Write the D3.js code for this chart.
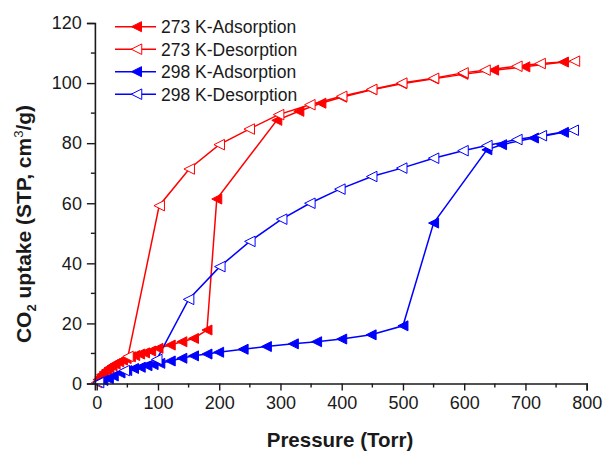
<!DOCTYPE html>
<html>
<head>
<meta charset="utf-8">
<script src="https://cdn.jsdelivr.net/npm/d3@7"></script>
<style>
  html, body { margin: 0; padding: 0; background: #fff; }
  svg { display: block; }
  text { font-family: "Liberation Sans", Arial, sans-serif; fill: #1a1a1a; }
</style>
</head>
<body>
<svg id="chart" width="604" height="451"></svg>
<script>
// CO2 isotherms: pressure (Torr) and uptake (cm3/g STP)
const ads273P = [2, 5, 8, 12, 16, 20, 25, 30, 36, 42, 48, 55, 62, 70, 78, 88, 100, 120, 139, 158, 180,
                 196, 294, 330, 366, 400, 449, 498, 550, 598, 648, 699, 762];
const ads273U = [1.3, 2.2, 3.0, 3.8, 4.5, 5.2, 5.9, 6.5, 7.2, 7.8, 8.3, 8.9, 9.3, 9.8, 10.2, 10.8, 11.7, 12.8, 13.9, 15.0, 17.8,
                 61.4, 87.6, 90.6, 93.3, 95.3, 97.8, 99.8, 101.4, 102.9, 104.3, 105.4, 107.0];

const des273P = [780, 724, 686, 634, 598, 550, 498, 449, 400, 348, 297, 249, 200, 151, 102, 51, 0];
const des273U = [107.3, 106.5, 105.6, 104.3, 103.4, 101.6, 100.0, 97.9, 95.6, 92.8, 89.5, 84.7, 79.5, 71.4, 59.2, 9.0, 0.3];

const ads298P = [3, 10, 19, 27, 38, 49, 60, 71, 82, 92, 103, 120, 139, 158, 180, 199, 239, 277, 321, 359, 400, 448, 500,
                 550, 637, 661, 713, 762];
const ads298U = [0.5, 1.0, 1.6, 2.5, 3.5, 4.3, 5.0, 5.4, 5.9, 6.3, 6.7, 7.5, 8.4, 9.2, 9.8, 10.4, 11.4, 12.3, 13.2, 13.9, 14.8, 16.2, 19.2,
                 53.4, 77.8, 79.5, 81.7, 83.6];

const des298P = [778, 726, 686, 637, 598, 550, 498, 449, 397, 348, 302, 250, 201, 150, 98, 45, 3];
const des298U = [84.3, 82.5, 81.2, 79.2, 77.5, 75.0, 71.7, 68.9, 64.7, 60.0, 54.7, 47.3, 38.9, 28.0, 8.0, 4.3, 0.3];

const seriesNames = ["273 K-Adsorption", "273 K-Desorption", "298 K-Adsorption", "298 K-Desorption"];
const seriesColors = ["#ff0000", "#ff0000", "#0000ff", "#0000ff"];
const seriesFilled = [true, false, true, false];

const xTicks = [0, 100, 200, 300, 400, 500, 600, 700, 800];
const yTicks = [0, 20, 40, 60, 80, 100, 120];

const series = [
  { P: ads273P, U: ads273U },
  { P: des273P, U: des273U },
  { P: ads298P, U: ads298U },
  { P: des298P, U: des298U }
].map((s, i) => ({
  name: seriesNames[i], color: seriesColors[i], filled: seriesFilled[i],
  pts: s.P.map((p, j) => [p, s.U[j]])
}));

const svg = d3.select("#chart");
const x = d3.scaleLinear().domain([-3, 800]).range([94.9, 586.7]);
const y = d3.scaleLinear().domain([0, 120]).range([383.5, 23]);

// left-pointing triangle marker
function triPath(w, h) {
  return `M${-w / 2},0L${w / 2},${-h / 2}L${w / 2},${h / 2}Z`;
}

const line = d3.line().x(d => x(d[0])).y(d => y(d[1]));

const plot = svg.append("g");
series.forEach(s => {
  plot.append("path").attr("d", line(s.pts))
    .attr("fill", "none").attr("stroke", s.color).attr("stroke-width", 1.5);
});
series.forEach(s => {
  plot.append("g").selectAll("path").data(s.pts).join("path")
    .attr("transform", d => `translate(${x(d[0])},${y(d[1])})`)
    .attr("d", s.filled ? triPath(10, 10) : triPath(10.5, 10.5))
    .attr("fill", s.filled ? s.color : "#fff")
    .attr("stroke", s.color).attr("stroke-width", 1);
});

// axes
const xAxis = d3.axisBottom(x).tickValues(xTicks).tickSize(7).tickPadding(6).tickFormat(d3.format("d"));
const gx = svg.append("g").attr("transform", `translate(0,${y(0)})`).call(xAxis);
const yAxis = d3.axisLeft(y).tickValues(yTicks).tickSize(8).tickPadding(5).tickFormat(d3.format("d"));
const gy = svg.append("g").attr("transform", `translate(${x(-3)},0)`).call(yAxis);

[gx, gy].forEach(g => {
  g.select(".domain").attr("stroke", "#1a1a1a").attr("stroke-width", 1.6);
  g.selectAll(".tick line").attr("stroke", "#1a1a1a").attr("stroke-width", 1.4);
  g.selectAll(".tick text").attr("font-size", 18).attr("font-family", "Liberation Sans, Arial, sans-serif").attr("fill", "#1a1a1a");
});

// minor ticks
const xMinor = d3.range(50, 800, 100);
gx.selectAll(".minor").data(xMinor).join("line").attr("class", "minor")
  .attr("x1", d => x(d)).attr("x2", d => x(d)).attr("y1", 0).attr("y2", 4)
  .attr("stroke", "#1a1a1a").attr("stroke-width", 1.4);
const yMinor = d3.range(10, 120, 20);
gy.selectAll(".minor").data(yMinor).join("line").attr("class", "minor")
  .attr("y1", d => y(d)).attr("y2", d => y(d)).attr("x1", 0).attr("x2", -4)
  .attr("stroke", "#1a1a1a").attr("stroke-width", 1.4);

// axis titles
svg.append("text").attr("x", 340).attr("y", 447).attr("text-anchor", "middle")
  .attr("font-size", 20.5).attr("font-weight", "bold").text("Pressure (Torr)");

const yt = svg.append("text").attr("transform", "translate(31,224) rotate(-90)")
  .attr("text-anchor", "middle").attr("font-size", 21).attr("font-weight", "bold");
yt.append("tspan").text("CO");
yt.append("tspan").attr("font-size", 13).attr("dy", 5).text("2");
yt.append("tspan").attr("dy", -5).text(" uptake (STP, cm");
yt.append("tspan").attr("font-size", 13).attr("font-weight", "normal").attr("dy", -8).text("3");
yt.append("tspan").attr("dy", 8).text("/g)");

// legend
const legend = svg.append("g");
series.forEach((s, i) => {
  const ly = 26.7 + i * 22.5;
  legend.append("line").attr("x1", 115).attr("x2", 156).attr("y1", ly).attr("y2", ly)
    .attr("stroke", s.color).attr("stroke-width", 1.5);
  legend.append("path").attr("transform", `translate(136.5,${ly})`)
    .attr("d", s.filled ? triPath(10, 10) : triPath(10.5, 10.5))
    .attr("fill", s.filled ? s.color : "#fff").attr("stroke", s.color).attr("stroke-width", 1);
  legend.append("text").attr("x", 161).attr("y", ly + 6.3)
    .attr("font-size", 17.5).text(s.name);
});
</script>
</body>
</html>
